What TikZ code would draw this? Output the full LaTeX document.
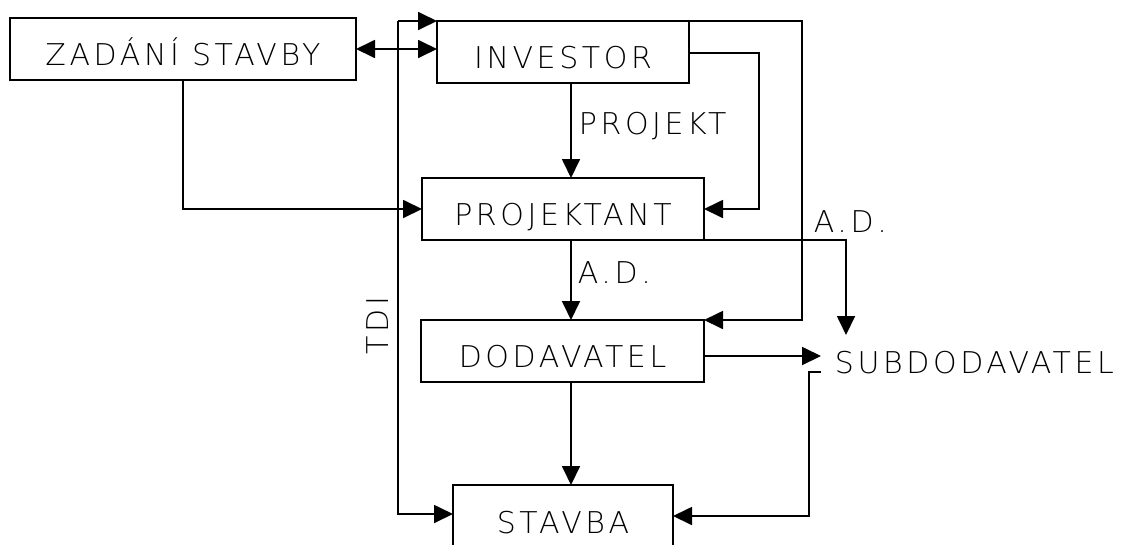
\documentclass[tikz,border=0pt]{standalone}
\usepackage{fontspec}
\usetikzlibrary{arrows.meta}
\newfontfamily\plotfont{DejaVu Sans ExtraLight}[LetterSpace=12]
\begin{document}
\begin{tikzpicture}[x=1pt,y=-1pt,
  line width=1.8pt,
  >={Triangle[length=19pt,width=18pt]},
  box/.style={draw, inner sep=0pt, outer sep=0pt, text height=47pt, text depth=15pt,
    font=\plotfont\fontsize{30}{30}\selectfont},
  lbl/.style={inner sep=0pt, anchor=base west,
    font=\plotfont\fontsize{30}{30}\selectfont}]
\useasboundingbox (0,0) rectangle (1123,544);

% boxes
\node[box, minimum width=346pt] (zad) at (183,49) {ZADÁNÍ STAVBY};
\node[box, minimum width=252pt] (inv) at (563,52) {INVESTOR};
\node[box, minimum width=282pt] (proj) at (563,209) {PROJEKTANT};
\node[box, minimum width=283pt] (dod) at (562.5,351) {DODAVATEL};
\node[box, minimum width=220pt, text height=48pt, text depth=17pt] (stav) at (563,517.5) {STAVBA};

% free labels
\node[lbl] (sub) at (834,373) {SUBDODAVATEL};
\node[lbl] (lproj) at (578,134) {PROJEKT};
\node[lbl] (lad1) at (577,283) {A.D.};
\node[lbl] (lad2) at (813,232) {A.D.};
\node[lbl, rotate=90] (ltdi) at (388,355) {TDI};

% helper points
\coordinate (spine) at (571,0);
\coordinate (tl) at (398,21);
\coordinate (tr) at (802,21);
\coordinate (ir) at (759,53);
\coordinate (adend) at (846,335);
\coordinate (subin) at (821,356);
\coordinate (subtick) at (821,372);
\coordinate (subcorner) at (809,372);
\coordinate (subdown) at (809,516);
\coordinate (tdibottom) at (398,514);

% connectors
\draw[<->] (zad.east) -- (zad.east -| inv.west);
\draw[->] (tl) -- (inv.north west);
\draw[->] (inv.north east) -- (tr) -- (tr |- dod.north) -- (dod.north east);
\draw[->] (tl) -- (tdibottom) -- (tdibottom -| stav.west);
\draw[->] (inv.east |- ir) -- (ir) -- (ir |- proj.east) -- (proj.east);
\draw[->] (inv.south -| spine) -- (proj.north -| spine);
\draw[->] (zad.south) -- (zad.south |- proj.west) -- (proj.west);
\draw[->] (proj.south -| spine) -- (dod.north -| spine);
\draw[->] (proj.south east) -- (proj.south east -| adend) -- (adend);
\draw[->] (dod.east |- subin) -- (subin);
\draw[->] (dod.south -| spine) -- (stav.north -| spine);
\draw[->] (subtick) -- (subcorner) -- (subdown) -- (subdown -| stav.east);
\end{tikzpicture}
\end{document}
